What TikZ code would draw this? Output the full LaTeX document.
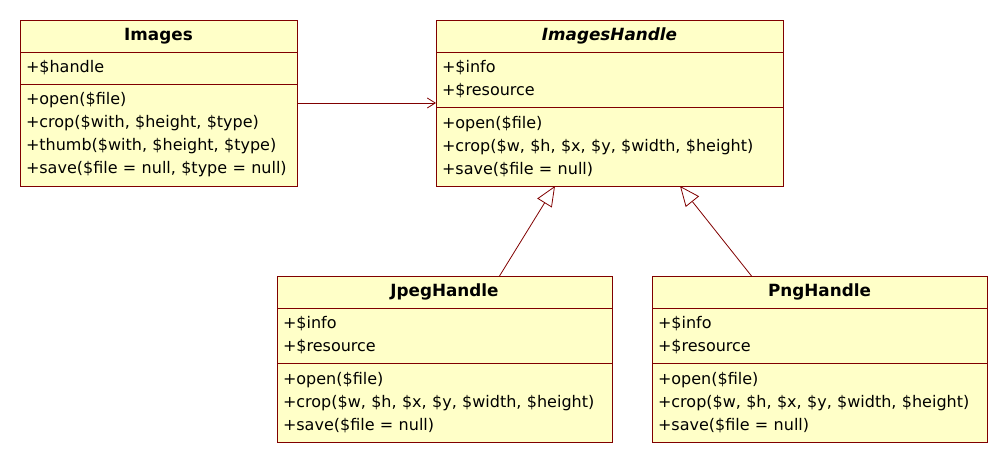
\documentclass[tikz,border=0pt]{standalone}
\usepackage{fontspec}
\setmainfont{DejaVu Sans}
\usetikzlibrary{positioning,arrows.meta}

\definecolor{umlfill}{RGB}{255,255,200}
\definecolor{umlline}{RGB}{128,0,0}

\tikzstyle{every node}=[draw=umlline, fill=umlfill, line width=0.9pt, outer sep=0pt, inner xsep=6pt, inner ysep=0pt, font=\fontsize{16}{23}\selectfont]
\tikzstyle{title}=[minimum height=32pt, align=center, font=\fontsize{16.8}{23}\selectfont\bfseries]
\tikzstyle{part}=[align=left]
\tikzstyle{assoc}=[draw=umlline, line width=0.8pt, -{Straight Barb[length=8pt,width=10pt]}]
\tikzstyle{inherit}=[draw=umlline, line width=0.8pt, -{Triangle[open,length=20pt,width=17pt,fill=white]}]

\begin{document}
\begin{tikzpicture}[x=1pt,y=1pt]
    \useasboundingbox (0,0) rectangle (1008,463);
    % Images
    \node[title, anchor=north west, minimum width=277pt, text width=265pt] (img) at (20,443) {Images};
    \node[part, below=0pt of img, minimum width=277pt, text width=265pt, minimum height=32pt] (img-a) {+\$handle};
    \node[part, below=0pt of img-a, minimum width=277pt, text width=265pt, minimum height=102pt] (img-m)
        {+open(\$file)\\+crop(\$with, \$height, \$type)\\+thumb(\$with, \$height, \$type)\\+save(\$file = null, \$type = null)};
    % ImagesHandle
    \node[title, anchor=north west, minimum width=347pt, text width=335pt] (imh) at (436,443) {\itshape ImagesHandle};
    \node[part, below=0pt of imh, minimum width=347pt, text width=335pt, minimum height=55pt] (imh-a) {+\$info\\+\$resource};
    \node[part, below=0pt of imh-a, minimum width=347pt, text width=335pt, minimum height=79pt] (imh-m)
        {+open(\$file)\\+crop(\$w, \$h, \$x, \$y, \$width, \$height)\\+save(\$file = null)};
    % JpegHandle
    \node[title, anchor=north west, minimum width=335pt, text width=323pt] (jpg) at (277,187) {JpegHandle};
    \node[part, below=0pt of jpg, minimum width=335pt, text width=323pt, minimum height=55pt] (jpg-a) {+\$info\\+\$resource};
    \node[part, below=0pt of jpg-a, minimum width=335pt, text width=323pt, minimum height=79pt] (jpg-m)
        {+open(\$file)\\+crop(\$w, \$h, \$x, \$y, \$width, \$height)\\+save(\$file = null)};
    % PngHandle
    \node[title, anchor=north west, minimum width=335pt, text width=323pt] (png) at (652,187) {PngHandle};
    \node[part, below=0pt of png, minimum width=335pt, text width=323pt, minimum height=55pt] (png-a) {+\$info\\+\$resource};
    \node[part, below=0pt of png-a, minimum width=335pt, text width=323pt, minimum height=79pt] (png-m)
        {+open(\$file)\\+crop(\$w, \$h, \$x, \$y, \$width, \$height)\\+save(\$file = null)};

    \coordinate (a1) at ([yshift=32pt]img-m.east);
    \draw[assoc] (a1) -- (a1 -| imh-a.west);
    \draw[inherit] ([xshift=55pt]jpg.north) -- ([xshift=-54.5pt]imh-m.south);
    \draw[inherit] ([xshift=-68pt]png.north) -- ([xshift=70.5pt]imh-m.south);
  \end{tikzpicture}
\end{document}
